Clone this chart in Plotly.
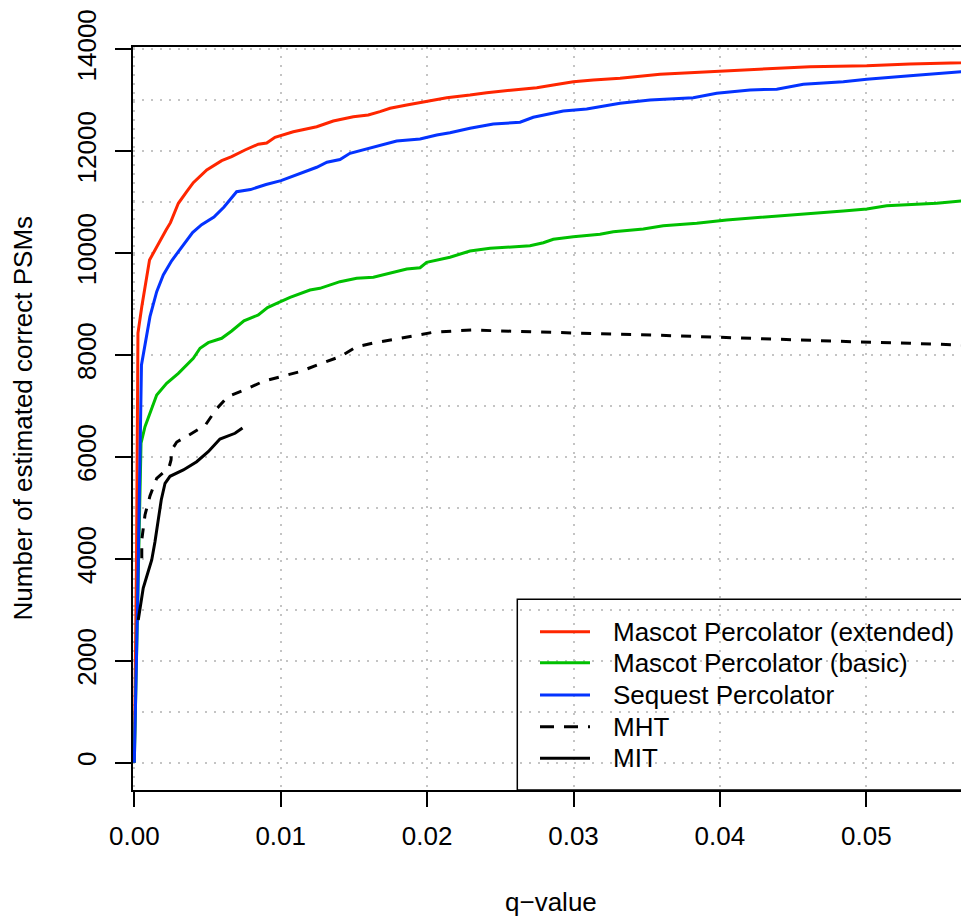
import plotly.graph_objects as go

# ---------------- data ----------------
ext_q = [0, 0.00015, 0.00025, 0.00051, 0.00104, 0.00164, 0.00217, 0.00247, 0.00301, 0.00358,
         0.00403, 0.00495, 0.00597, 0.00665, 0.00756, 0.00847, 0.00904, 0.00961, 0.01029, 0.01086,
         0.01246, 0.01359, 0.01496, 0.01598, 0.01678, 0.01747, 0.01861, 0.01997, 0.02134, 0.02293,
         0.02407, 0.02589, 0.02749, 0.02862, 0.02999, 0.03135, 0.03318, 0.03591, 0.03933, 0.04274,
         0.04615, 0.05003, 0.05298, 0.05647, 0.0570]
ext_v = [0, 3978, 8432, 8948, 9865, 10192, 10453, 10597, 10977, 11205,
         11382, 11631, 11813, 11892, 12023, 12137, 12161, 12272, 12337, 12382,
         12480, 12592, 12677, 12710, 12775, 12841, 12906, 12971, 13049, 13102,
         13148, 13201, 13246, 13299, 13363, 13397, 13430, 13509, 13560, 13607,
         13658, 13677, 13711, 13736, 13745]

basic_q = [0, 0.00020, 0.00046, 0.00073, 0.00153, 0.00221, 0.00301, 0.00403, 0.00449, 0.00505,
           0.00597, 0.00665, 0.00749, 0.00847, 0.00910, 0.00984, 0.01064, 0.01200, 0.01268, 0.01405,
           0.01519, 0.01633, 0.01747, 0.01861, 0.01952, 0.01997, 0.02156, 0.02293, 0.02430, 0.02589,
           0.02703, 0.02794, 0.02862, 0.02999, 0.03181, 0.03272, 0.03477, 0.03613, 0.03842, 0.04046,
           0.04342, 0.04525, 0.04843, 0.05003, 0.05139, 0.05481, 0.05647, 0.0570]
basic_v = [0, 2900, 6268, 6593, 7216, 7445, 7641, 7936, 8132, 8242,
           8328, 8471, 8671, 8785, 8932, 9027, 9132, 9276, 9309, 9439,
           9505, 9525, 9604, 9688, 9713, 9819, 9918, 10041, 10094, 10126,
           10145, 10204, 10271, 10322, 10369, 10420, 10473, 10538, 10585, 10650,
           10714, 10748, 10826, 10866, 10930, 10977, 11028, 11035]

seq_q = [0, 0.00023, 0.00049, 0.00078, 0.00107, 0.00153, 0.00198, 0.00255, 0.00319, 0.00398,
         0.00460, 0.00544, 0.00613, 0.00699, 0.00794, 0.00900, 0.01002, 0.01118, 0.01246, 0.01316,
         0.01405, 0.01473, 0.01564, 0.01656, 0.01792, 0.01952, 0.02066, 0.02156, 0.02293, 0.02452,
         0.02635, 0.02725, 0.02930, 0.03090, 0.03249, 0.03318, 0.03523, 0.03818, 0.03978, 0.04206,
         0.04388, 0.04570, 0.04843, 0.05003, 0.05298, 0.05647, 0.0570]
seq_v = [0, 3193, 7804, 8295, 8752, 9243, 9570, 9849, 10100, 10404,
         10557, 10708, 10905, 11205, 11246, 11346, 11421, 11552, 11684, 11782,
         11837, 11958, 12023, 12088, 12200, 12239, 12318, 12363, 12449, 12533,
         12567, 12665, 12788, 12828, 12896, 12940, 13004, 13049, 13136, 13201,
         13216, 13312, 13363, 13410, 13481, 13560, 13570]

mht_q = [0.00051, 0.00051, 0.00073, 0.00107, 0.00153, 0.00237, 0.00251, 0.00255, 0.00290, 0.00363,
         0.00486, 0.00561, 0.00642, 0.00763, 0.00886, 0.01009, 0.01132, 0.01268, 0.01405, 0.01519,
         0.01656, 0.01792, 0.01929, 0.02042, 0.02179, 0.02316, 0.02452, 0.02589, 0.02725, 0.02862,
         0.02999, 0.03135, 0.03318, 0.03591, 0.03933, 0.04274, 0.04615, 0.04957, 0.05298, 0.05647, 0.0570]
mht_v = [4011, 4370, 4861, 5234, 5581, 5793, 5940, 6136, 6293, 6411,
         6627, 6941, 7190, 7327, 7490, 7575, 7673, 7824, 7967, 8163,
         8250, 8314, 8393, 8446, 8471, 8491, 8477, 8465, 8452, 8438,
         8426, 8412, 8407, 8387, 8354, 8314, 8281, 8256, 8230, 8197, 8192]

mit_q = [0.00027, 0.00039, 0.00061, 0.00094, 0.00119, 0.00141, 0.00164, 0.00184, 0.00210, 0.00244,
         0.00335, 0.00426, 0.00505, 0.00585, 0.00688, 0.00739]
mit_v = [2800, 2996, 3428, 3742, 3978, 4331, 4763, 5155, 5483, 5620,
         5744, 5907, 6103, 6352, 6464, 6568]

series_names = ["Mascot Percolator (extended)", "Mascot Percolator (basic)",
                "Sequest Percolator", "MHT", "MIT"]
series_colors = ["#FF2600", "#00C000", "#0433FF", "#000000", "#000000"]
series_dash = ["solid", "solid", "solid", "10px,10px", "solid"]

x_tickvals = [0, 0.01, 0.02, 0.03, 0.04, 0.05]
x_ticktext = ["0.00", "0.01", "0.02", "0.03", "0.04", "0.05"]
y_tickvals = [0, 2000, 4000, 6000, 8000, 10000, 12000, 14000]
y_ticktext = ["0", "2000", "4000", "6000", "8000", "10000", "12000", "14000"]

# ---------------- figure ----------------
FONT = "Liberation Sans, Arial, Helvetica, sans-serif"
FS = 26
W, H = 961, 916
L, R, T, B = 133, 0, 47, 126
PW, PH = W - L - R, H - T - B

def px_x(p):
    return (p - L) / PW

def px_y(p):
    return (H - B - p) / PH

fig = go.Figure()
data = [(ext_q, ext_v), (basic_q, basic_v), (seq_q, seq_v), (mht_q, mht_v), (mit_q, mit_v)]
for (qx, vy), name, col, dash in zip(data, series_names, series_colors, series_dash):
    fig.add_trace(go.Scatter(x=qx, y=vy, mode="lines", name=name, showlegend=False,
                             line=dict(color=col, width=3, dash=dash)))

grid = dict(showgrid=True, gridcolor="#C4C4C4", gridwidth=1.5, griddash="2px,7px")

fig.update_layout(
    width=W, height=H,
    margin=dict(l=L, r=R, t=T, b=B, pad=0),
    paper_bgcolor="white", plot_bgcolor="white",
    font=dict(family=FONT, size=FS, color="black"),
    showlegend=False,
    xaxis=dict(range=[-0.0000888, 0.056468], tickmode="array", tickvals=x_tickvals,
               ticktext=x_ticktext, ticks="outside", ticklen=15, tickwidth=1.5,
               tickcolor="black", showline=True, linecolor="black", linewidth=1.5,
               mirror=True, zeroline=False, tickfont=dict(size=FS, family=FONT),
               ticklabelstandoff=7, **grid),
    yaxis=dict(range=[-535.7, 14044], tickmode="array", tickvals=y_tickvals,
               ticktext=y_ticktext, ticks="outside", ticklen=16, tickwidth=1.5,
               tickcolor="black", showline=True, linecolor="black", linewidth=1.5,
               mirror=False, zeroline=False, tickangle=-90,
               tickfont=dict(size=FS, family=FONT), ticklabelstandoff=9,
               minor=dict(dtick=1000, tick0=0, showgrid=True, gridcolor="#C4C4C4",
                          gridwidth=1.5, griddash="2px,7px", ticks=""),
               **grid),
)

# axis titles
fig.add_annotation(text="q\u2212value", xref="paper", yref="paper",
                   x=px_x(551), y=px_y(902), xanchor="center", yanchor="middle",
                   showarrow=False, font=dict(size=FS, family=FONT))
fig.add_annotation(text="Number of estimated correct PSMs", xref="paper", yref="paper",
                   x=px_x(22), y=0.5, xanchor="center", yanchor="middle", textangle=-90,
                   showarrow=False, font=dict(size=FS, family=FONT))

# legend (drawn manually to match the R legend box)
fig.add_shape(type="rect", xref="paper", yref="paper",
              x0=px_x(517.3), x1=1.05, y0=0, y1=px_y(599.3),
              line=dict(color="black", width=1.5), fillcolor="white", layer="between")
leg_y = [631.7, 662.7, 695, 726.7, 758.3]
for name, col, dash, ly in zip(series_names, series_colors, series_dash, leg_y):
    fig.add_shape(type="line", xref="paper", yref="paper",
                  x0=px_x(540), x1=px_x(590), y0=px_y(ly), y1=px_y(ly),
                  line=dict(color=col, width=3, dash=("14px,10px" if dash != "solid" else "solid")),
                  layer="above")
    fig.add_annotation(text=name, xref="paper", yref="paper", x=px_x(611), y=px_y(ly),
                       xanchor="left", yanchor="middle", showarrow=False,
                       font=dict(size=FS, family=FONT))

fig.write_html("out.html")
